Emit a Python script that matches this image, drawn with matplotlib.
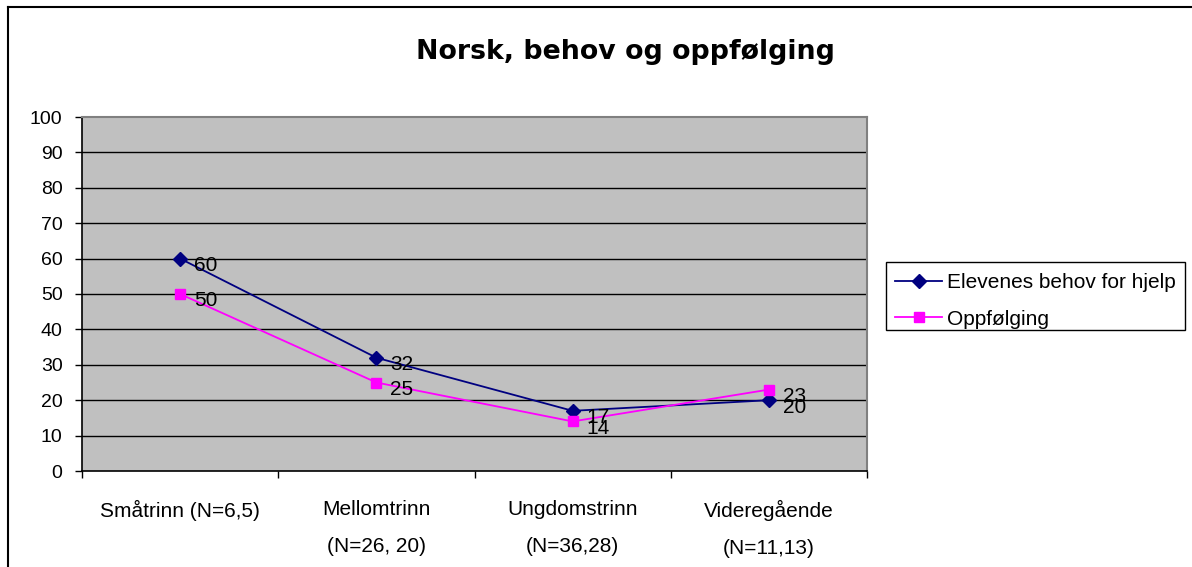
import matplotlib
matplotlib.use("Agg")
import matplotlib.pyplot as plt
from matplotlib.lines import Line2D
from matplotlib.patches import Rectangle

categories = ["Småtrinn (N=6,5)", "Mellomtrinn\n(N=26, 20)", "Ungdomstrinn\n(N=36,28)", "Videregående\n(N=11,13)"]
behov = [60, 32, 17, 20]
oppfolging = [50, 25, 14, 23]
series_names = ["Elevenes behov for hjelp", "Oppfølging"]
title = "Norsk, behov og oppfølging"

plt.rcParams['font.family'] = ['Liberation Sans', 'DejaVu Sans']

W, H = 1192, 567
fig = plt.figure(figsize=(W / 100, H / 100), dpi=100)

# outer chart border (left and top visible)
fig.add_artist(Line2D([8 / W, 8 / W], [0, 1 - 7 / H], color='black', lw=1.5, transform=fig.transFigure))
fig.add_artist(Line2D([8 / W, 1], [1 - 7 / H, 1 - 7 / H], color='black', lw=1.5, transform=fig.transFigure))

left, right, top, bottom = 82, 867, 117, 471
ax = fig.add_axes([left / W, 1 - bottom / H, (right - left) / W, (bottom - top) / H])
ax.set_facecolor('#C0C0C0')

x = list(range(len(categories)))
ax.plot(x, behov, color='#000080', marker='D', markersize=7, lw=1.3, label=series_names[0], zorder=3)
ax.plot(x, oppfolging, color='#FF00FF', marker='s', markersize=7, lw=1.3, label=series_names[1], zorder=3)

for xi, v in zip(x, behov):
    ax.annotate(str(v), (xi, v), xytext=(14, -7), textcoords='offset pixels',
                ha='left', va='center', fontsize=15, zorder=4)
for xi, v in zip(x, oppfolging):
    ax.annotate(str(v), (xi, v), xytext=(14, -7), textcoords='offset pixels',
                ha='left', va='center', fontsize=15, zorder=4)

ax.set_xlim(-0.5, len(categories) - 0.5)
ax.set_ylim(0, 100)
ax.set_yticks(range(0, 101, 10))
ax.tick_params(axis='y', labelsize=14, length=5, width=1, pad=9, direction='out')
ax.set_xticks([i - 0.5 for i in range(len(categories) + 1)])
ax.set_xticklabels([])
ax.set_xticks(x, minor=True)
ax.set_xticklabels(categories, minor=True, fontsize=15, linespacing=2.2, va='top')
ax.tick_params(axis='x', which='major', length=5, width=1, direction='out')
ax.tick_params(axis='x', which='minor', length=0, pad=21)

for y in range(10, 100, 10):
    ax.axhline(y, color='black', lw=1.0, zorder=1)

ax.spines['left'].set_color('black')
ax.spines['bottom'].set_color('black')
ax.spines['left'].set_linewidth(1.2)
ax.spines['bottom'].set_linewidth(1.2)
ax.spines['top'].set_color('#808080')
ax.spines['right'].set_color('#808080')
ax.spines['top'].set_linewidth(1.5)
ax.spines['right'].set_linewidth(1.5)

fig.text(625 / W, 1 - 52 / H, title, ha='center', va='center', fontsize=19.3,
         fontweight='bold', family=['DejaVu Sans'])

# legend frame
fig.add_artist(Rectangle((886 / W, 1 - 330 / H), 299 / W, 68 / H, transform=fig.transFigure,
                         facecolor='white', edgecolor='black', lw=1.0, zorder=0))
leg = fig.legend(loc='upper left', bbox_to_anchor=(895 / W, 1 - 273 / H),
                 fontsize=15, frameon=False,
                 handlelength=2.26, handletextpad=0.24, borderpad=0, labelspacing=0.85,
                 borderaxespad=0)

fig.savefig('out.png', dpi=100, facecolor='white')
